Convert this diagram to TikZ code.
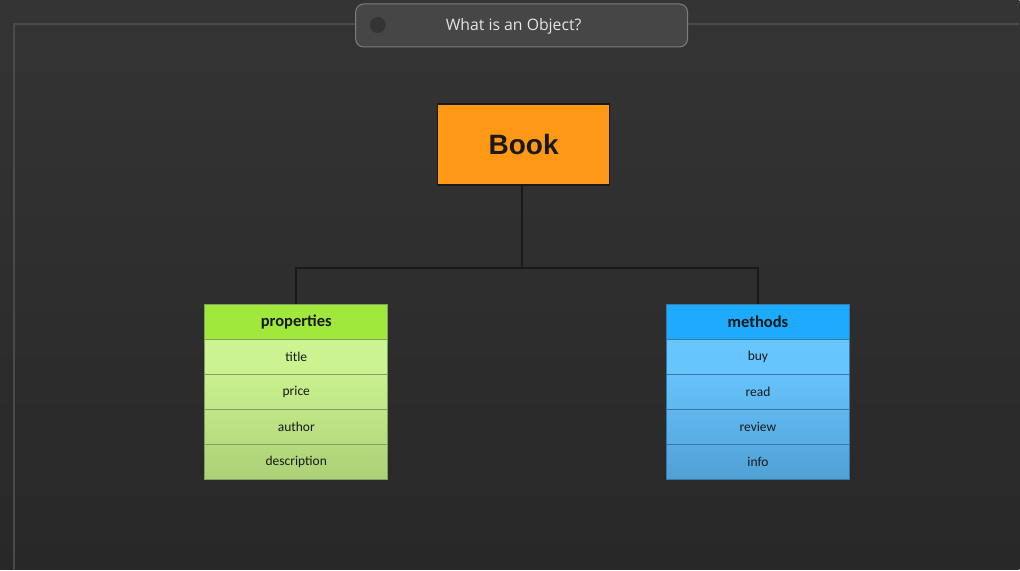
\documentclass[tikz,border=0pt]{standalone}
\usepackage{fontspec}
\usepackage{tikz}
\newfontfamily\itemfont{Carlito}
\newfontfamily\bookfont{Liberation Sans}
\newfontfamily\barfont{Open Sans}
\definecolor{stagebg}{RGB}{52, 52, 52}
\definecolor{stagebgdark}{RGB}{40, 40, 40}
\definecolor{framegray}{RGB}{74, 74, 74}
\definecolor{bargray}{RGB}{70, 70, 70}
\definecolor{barline}{RGB}{125, 125, 125}
\definecolor{bookorange}{RGB}{255, 152, 20}
\definecolor{propgreen}{RGB}{160, 232, 60}
\definecolor{propbright}{RGB}{204, 244, 145}
\definecolor{propdull}{RGB}{172, 208, 118}
\definecolor{propline}{RGB}{130, 160, 95}
\definecolor{methblue}{RGB}{30, 170, 255}
\definecolor{methbright}{RGB}{104, 198, 255}
\definecolor{methdull}{RGB}{80, 160, 212}
\definecolor{methline}{RGB}{55, 120, 165}

\begin{document}
\begin{tikzpicture}[
  x=1pt, y=-1pt,
  link/.style={line width=2pt, black!90},
  headcell/.style={line width=0.8pt, font=\itemfont\fontsize{16.5}{19}\selectfont\bfseries, text=black!90, minimum width=183pt, minimum height=35pt, inner sep=0pt},
  itemcell/.style={line width=0.8pt, font=\itemfont\fontsize{13.5}{16}\selectfont, text=black!90, minimum width=183pt, minimum height=35pt, inner sep=0pt},
]
% Stage
\shade[top color=stagebg, bottom color=stagebgdark] (0,0) rectangle (1020,570);
\draw[framegray, line width=1.5pt] (14,570) -- (14,24) -- (1020,24);

% Title bar
\node[draw=barline, fill=bargray, rounded corners=8pt, line width=1pt, minimum width=332pt, minimum height=43pt] (bar) at (522,25.5) {};
\node[circle, fill=stagebg, minimum size=16pt, inner sep=0pt] (dot) at (378,25) {};
\node[font=\barfont\fontsize{15.8}{19}\selectfont, text=white!90!black] (bartitle) at (514,26) {What is an Object?};

% Root
\node[draw=black!90, fill=bookorange, line width=1.5pt, minimum width=172pt, minimum height=81pt, font=\bookfont\fontsize{28}{32}\selectfont\bfseries, text=black!90] (book) at (524,144.5) {Book};

% Level 1: properties
\node[headcell, draw=propline, fill=propgreen] (props) at (296.5,322.5) {properties};
\node[itemcell, draw=propline, top color=propbright, bottom color=propbright!95!propdull] (title) at (296.5,357.5) {title};
\node[itemcell, draw=propline, top color=propbright!90!propdull, bottom color=propbright!65!propdull] (price) at (296.5,392.5) {price};
\node[itemcell, draw=propline, top color=propbright!60!propdull, bottom color=propbright!35!propdull] (author) at (296.5,427.5) {author};
\node[itemcell, draw=propline, top color=propbright!30!propdull, bottom color=propdull] (descr) at (296.5,462.5) {description};

% Level 1: methods
\node[headcell, draw=methline, fill=methblue] (meths) at (758.5,322.5) {methods};
\node[itemcell, draw=methline, top color=methbright, bottom color=methbright!95!methdull] (buy) at (758.5,357.5) {buy};
\node[itemcell, draw=methline, top color=methbright!90!methdull, bottom color=methbright!65!methdull] (read) at (758.5,392.5) {read};
\node[itemcell, draw=methline, top color=methbright!60!methdull, bottom color=methbright!35!methdull] (review) at (758.5,427.5) {review};
\node[itemcell, draw=methline, top color=methbright!30!methdull, bottom color=methdull] (info) at (758.5,462.5) {info};

% Connectors
\coordinate (hub) at (522,268);
\draw[link] (book.south -| hub) -- (hub);
\draw[link] (hub) -| (props.north);
\draw[link] (hub) -| (meths.north);
\end{tikzpicture}
\end{document}
